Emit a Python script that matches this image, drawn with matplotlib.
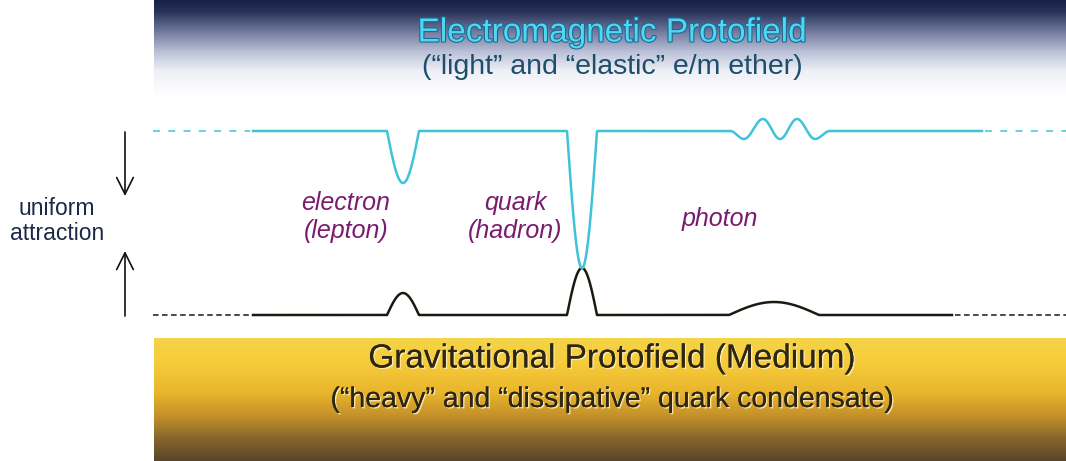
import numpy as np
import matplotlib
matplotlib.use("Agg")
import matplotlib.pyplot as plt
import matplotlib.patheffects as pe
from matplotlib.colors import LinearSegmentedColormap

plt.rcParams['font.family'] = ['Liberation Sans', 'DejaVu Sans']
plt.rcParams['lines.scale_dashes'] = False

W, H = 1066, 461

# field levels (pixel rows) and extent of the solid part of each line
EM_LEVEL = 131
GRAV_LEVEL = 315
EM_SOLID = (253, 982)
GRAV_SOLID = (253, 952)
LINE_START, LINE_END = 153, 1066

# particles: centre x, half width, dip of e/m line, bump of medium line
PARTICLES = ["electron", "quark", "photon"]
CENTRES = [403, 582, 774]
HALF_WIDTHS = [16, 15, 45]
EM_DIPS = [52, 137, 0]
GRAV_BUMPS = [22, 47, 13]

# photon ripple on the e/m line: turning points and offsets (px up)
WAVE_X = [730, 744, 763, 780, 797, 815, 830]
WAVE_UP = [0, -8, 12, -8, 12, -8, 0]

LABELS = ["electron\n(lepton)", "quark\n(hadron)", "photon"]
LABEL_X = [346, 515, 720]
LABEL_Y = [217, 217, 219]

fig = plt.figure(figsize=(W / 100, H / 100), dpi=100)
ax = fig.add_axes([0, 0, 1, 1])
ax.set_xlim(0, W)
ax.set_ylim(H, 0)
ax.axis('off')

# top band: navy fading to white
top_cmap = LinearSegmentedColormap.from_list(
    "top", [(0, "#1b2146"), (0.12, "#283258"), (0.35, "#7880a4"),
            (0.55, "#bcc2d8"), (0.75, "#eef0f6"), (1, "#ffffff")])
ax.imshow(np.linspace(0, 1, 200)[:, None], cmap=top_cmap, aspect='auto',
          extent=[154, W, 95, 0], zorder=0)

# bottom band: yellow to dark brown
bot_cmap = LinearSegmentedColormap.from_list(
    "bot", [(0, "#f4d448"), (0.2, "#f6cc3a"), (0.45, "#e8b42c"),
            (0.65, "#c08e2a"), (0.82, "#86652e"), (1, "#5a4628")])
ax.imshow(np.linspace(0, 1, 200)[:, None], cmap=bot_cmap, aspect='auto',
          extent=[154, W, H, 338], zorder=0)


def bump(x, c, hw, h):
    u = (x - c) / hw
    return np.where(np.abs(u) < 1, h * np.cos(np.pi / 2 * np.clip(u, -1, 1)), 0.0)


def ripple(x):
    out = np.zeros_like(x)
    for i in range(len(WAVE_X) - 1):
        x0, x1 = WAVE_X[i], WAVE_X[i + 1]
        m = (x >= x0) & (x <= x1)
        t = (x[m] - x0) / (x1 - x0)
        s = (1 - np.cos(np.pi * t)) / 2
        out[m] = WAVE_UP[i] + (WAVE_UP[i + 1] - WAVE_UP[i]) * s
    return out


x_em = np.linspace(EM_SOLID[0], EM_SOLID[1], 3000)
y_em = np.full_like(x_em, EM_LEVEL, dtype=float)
for c, hw, d in zip(CENTRES, HALF_WIDTHS, EM_DIPS):
    y_em += bump(x_em, c, hw, d)
y_em -= ripple(x_em)

x_gr = np.linspace(GRAV_SOLID[0], GRAV_SOLID[1], 3000)
y_gr = np.full_like(x_gr, GRAV_LEVEL, dtype=float)
for c, hw, b in zip(CENTRES, HALF_WIDTHS, GRAV_BUMPS):
    y_gr -= bump(x_gr, c, hw, b)

cyan = "#3fc3da"
ax.plot(x_gr, y_gr, color="#1a1a10", lw=1.8, zorder=3)
ax.plot(x_em, y_em, color=cyan, lw=1.8, zorder=4)
ax.plot([LINE_START, EM_SOLID[0] - 3], [EM_LEVEL] * 2, color=cyan, lw=1.1,
        dashes=(5, 6))
ax.plot([EM_SOLID[1] + 3, LINE_END], [EM_LEVEL] * 2, color=cyan, lw=1.1,
        dashes=(5, 6))
ax.plot([LINE_START, GRAV_SOLID[0] - 3], [GRAV_LEVEL] * 2, color="#1a1a10",
        lw=1.1, dashes=(4, 2.5))
ax.plot([GRAV_SOLID[1] + 3, LINE_END], [GRAV_LEVEL] * 2, color="#1a1a10",
        lw=1.1, dashes=(4, 2.5))

# uniform attraction arrows
arrow = dict(arrowstyle='->,head_length=0.5,head_width=0.25', lw=1.2,
             color='#111111', mutation_scale=24, shrinkA=0, shrinkB=0)
ax.annotate('', xy=(125, 196), xytext=(125, 132), arrowprops=arrow)
ax.annotate('', xy=(125, 251), xytext=(125, 316), arrowprops=arrow)
ax.text(57, 221, "uniform\nattraction", ha='center', va='center',
        fontsize=16.5, color='#1c2848', linespacing=1.15)

for lab, lx, ly in zip(LABELS, LABEL_X, LABEL_Y):
    ax.text(lx, ly, lab, ha='center', va='center', fontsize=18,
            style='italic', color='#7a1c6e', linespacing=1.2)

# band titles
ax.text(612, 33, "Electromagnetic Protofield", ha='center', va='center',
        fontsize=24, color='#4fd8f4',
        path_effects=[pe.withStroke(linewidth=1.6, foreground='#1e6890')])
ax.text(612, 67, "(\u201clight\u201d and \u201celastic\u201d e/m ether)",
        ha='center', va='center', fontsize=20.5, color='#1d4e6e')
shadow = [pe.withSimplePatchShadow(offset=(1, -1), shadow_rgbFace='#fff4c8',
                                   alpha=0.8), pe.Normal()]
ax.text(612, 359, "Gravitational Protofield (Medium)", ha='center',
        va='center', fontsize=24, color='#2e2614', path_effects=shadow)
ax.text(612, 400,
        "(\u201cheavy\u201d and \u201cdissipative\u201d quark condensate)",
        ha='center', va='center', fontsize=20.5, color='#2e2614',
        path_effects=shadow)

fig.savefig("out.png", dpi=100)
